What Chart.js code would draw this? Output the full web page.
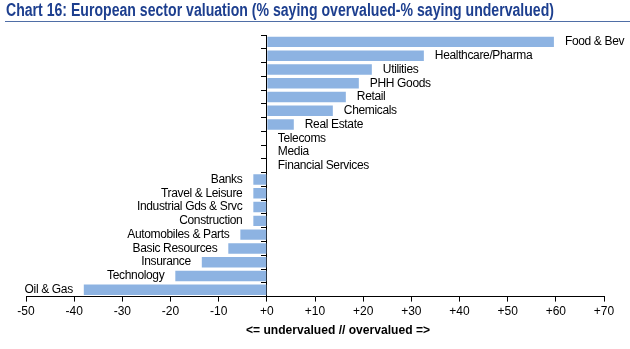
<!DOCTYPE html>
<html>
<head>
<meta charset="utf-8">
<script src="https://cdn.jsdelivr.net/npm/chart.js@4/dist/chart.umd.min.js"></script>
<style>
  html, body { margin: 0; padding: 0; background: #fff; }
  #wrap { position: relative; width: 630px; height: 349px; overflow: hidden; }
  #titlebar { position: absolute; left: 5px; top: 0px; width: 625px; height: 21px;
    border-bottom: 1.5px solid #4f6ea6; }
  #title { position: absolute; left: 1px; top: 0px; white-space: nowrap; transform-origin: 0 0;
    font: bold 18px "Liberation Sans", Arial, sans-serif; color: #1d3f8f; line-height: 20px; }
  #xtitle { position: absolute; top: 323px; white-space: nowrap; transform-origin: 0 0;
    font: bold 12px "Liberation Sans", Arial, sans-serif; color: #000; line-height: 14px; }
  canvas { position: absolute; left: 0; top: 0; }
</style>
</head>
<body>
<div id="wrap">
  <canvas id="c" width="630" height="349"></canvas>
  <div id="titlebar"><span id="title">Chart 16: European sector valuation (% saying overvalued-% saying undervalued)</span></div>
  <span id="xtitle">&lt;= undervalued // overvalued =&gt;</span>
</div>
<script>
const categories = ["Food & Bev", "Healthcare/Pharma", "Utilities", "PHH Goods", "Retail", "Chemicals",
  "Real Estate", "Telecoms", "Media", "Financial Services", "Banks", "Travel & Leisure",
  "Industrial Gds & Srvc", "Construction", "Automobiles & Parts", "Basic Resources",
  "Insurance", "Technology", "Oil & Gas"];
const values = [59.6, 32.6, 21.8, 19.1, 16.4, 13.7, 5.6, 0, 0, 0, -2.8, -2.8, -2.8, -2.8,
  -5.5, -8, -13.5, -19, -38];
const xMin = -50, xMax = 70, xStep = 10;

const FONT = '"Liberation Sans", Arial, sans-serif';

// condense HTML titles to the reference widths
function fitWidth(el, target, left) {
  const w = el.getBoundingClientRect().width;
  const s = target / w;
  el.style.transform = 'scaleX(' + s + ')';
  if (left !== undefined) el.style.left = left + 'px';
}
fitWidth(document.getElementById('title'), 548);
fitWidth(document.getElementById('xtitle'), 184, 246);

const barLabels = {
  id: 'barLabels',
  afterDatasetsDraw(chart) {
    const ctx = chart.ctx;
    const meta = chart.getDatasetMeta(0);
    ctx.save();
    ctx.font = '12px ' + FONT;
    ctx.letterSpacing = '-0.35px';
    ctx.fillStyle = '#000';
    ctx.textBaseline = 'middle';
    meta.data.forEach((el, i) => {
      const v = values[i];
      if (v >= 0) { ctx.textAlign = 'left'; ctx.fillText(categories[i], el.x + 11, el.y); }
      else { ctx.textAlign = 'right'; ctx.fillText(categories[i], el.x - 11, el.y); }
    });
    ctx.restore();
  }
};

new Chart(document.getElementById('c'), {
  type: 'bar',
  data: {
    labels: categories,
    datasets: [{
      data: values,
      backgroundColor: '#8db3e2',
      borderWidth: 0,
      barPercentage: 0.76,
      categoryPercentage: 1.0
    }]
  },
  options: {
    indexAxis: 'y',
    responsive: false,
    animation: false,
    layout: { padding: { left: 26, right: 26, top: 35, bottom: 27 } },
    plugins: { legend: { display: false }, tooltip: { enabled: false }, title: { display: false } },
    scales: {
      x: {
        min: xMin, max: xMax,
        ticks: {
          stepSize: xStep, color: '#000', padding: 3,
          font: { family: FONT, size: 12 },
          maxRotation: 0, autoSkip: false,
          callback: (v) => (v >= 0 ? '+' + v : String(v))
        },
        grid: { drawOnChartArea: false, drawTicks: true, tickLength: 5, color: '#000' },
        border: { color: '#000', width: 1 }
      },
      y: {
        position: { x: 0 },
        ticks: { display: false },
        grid: { drawOnChartArea: false, drawTicks: true, tickLength: 5, offset: true, color: '#000' },
        border: { color: '#000', width: 1 }
      }
    }
  },
  plugins: [barLabels]
});
</script>
</body>
</html>
